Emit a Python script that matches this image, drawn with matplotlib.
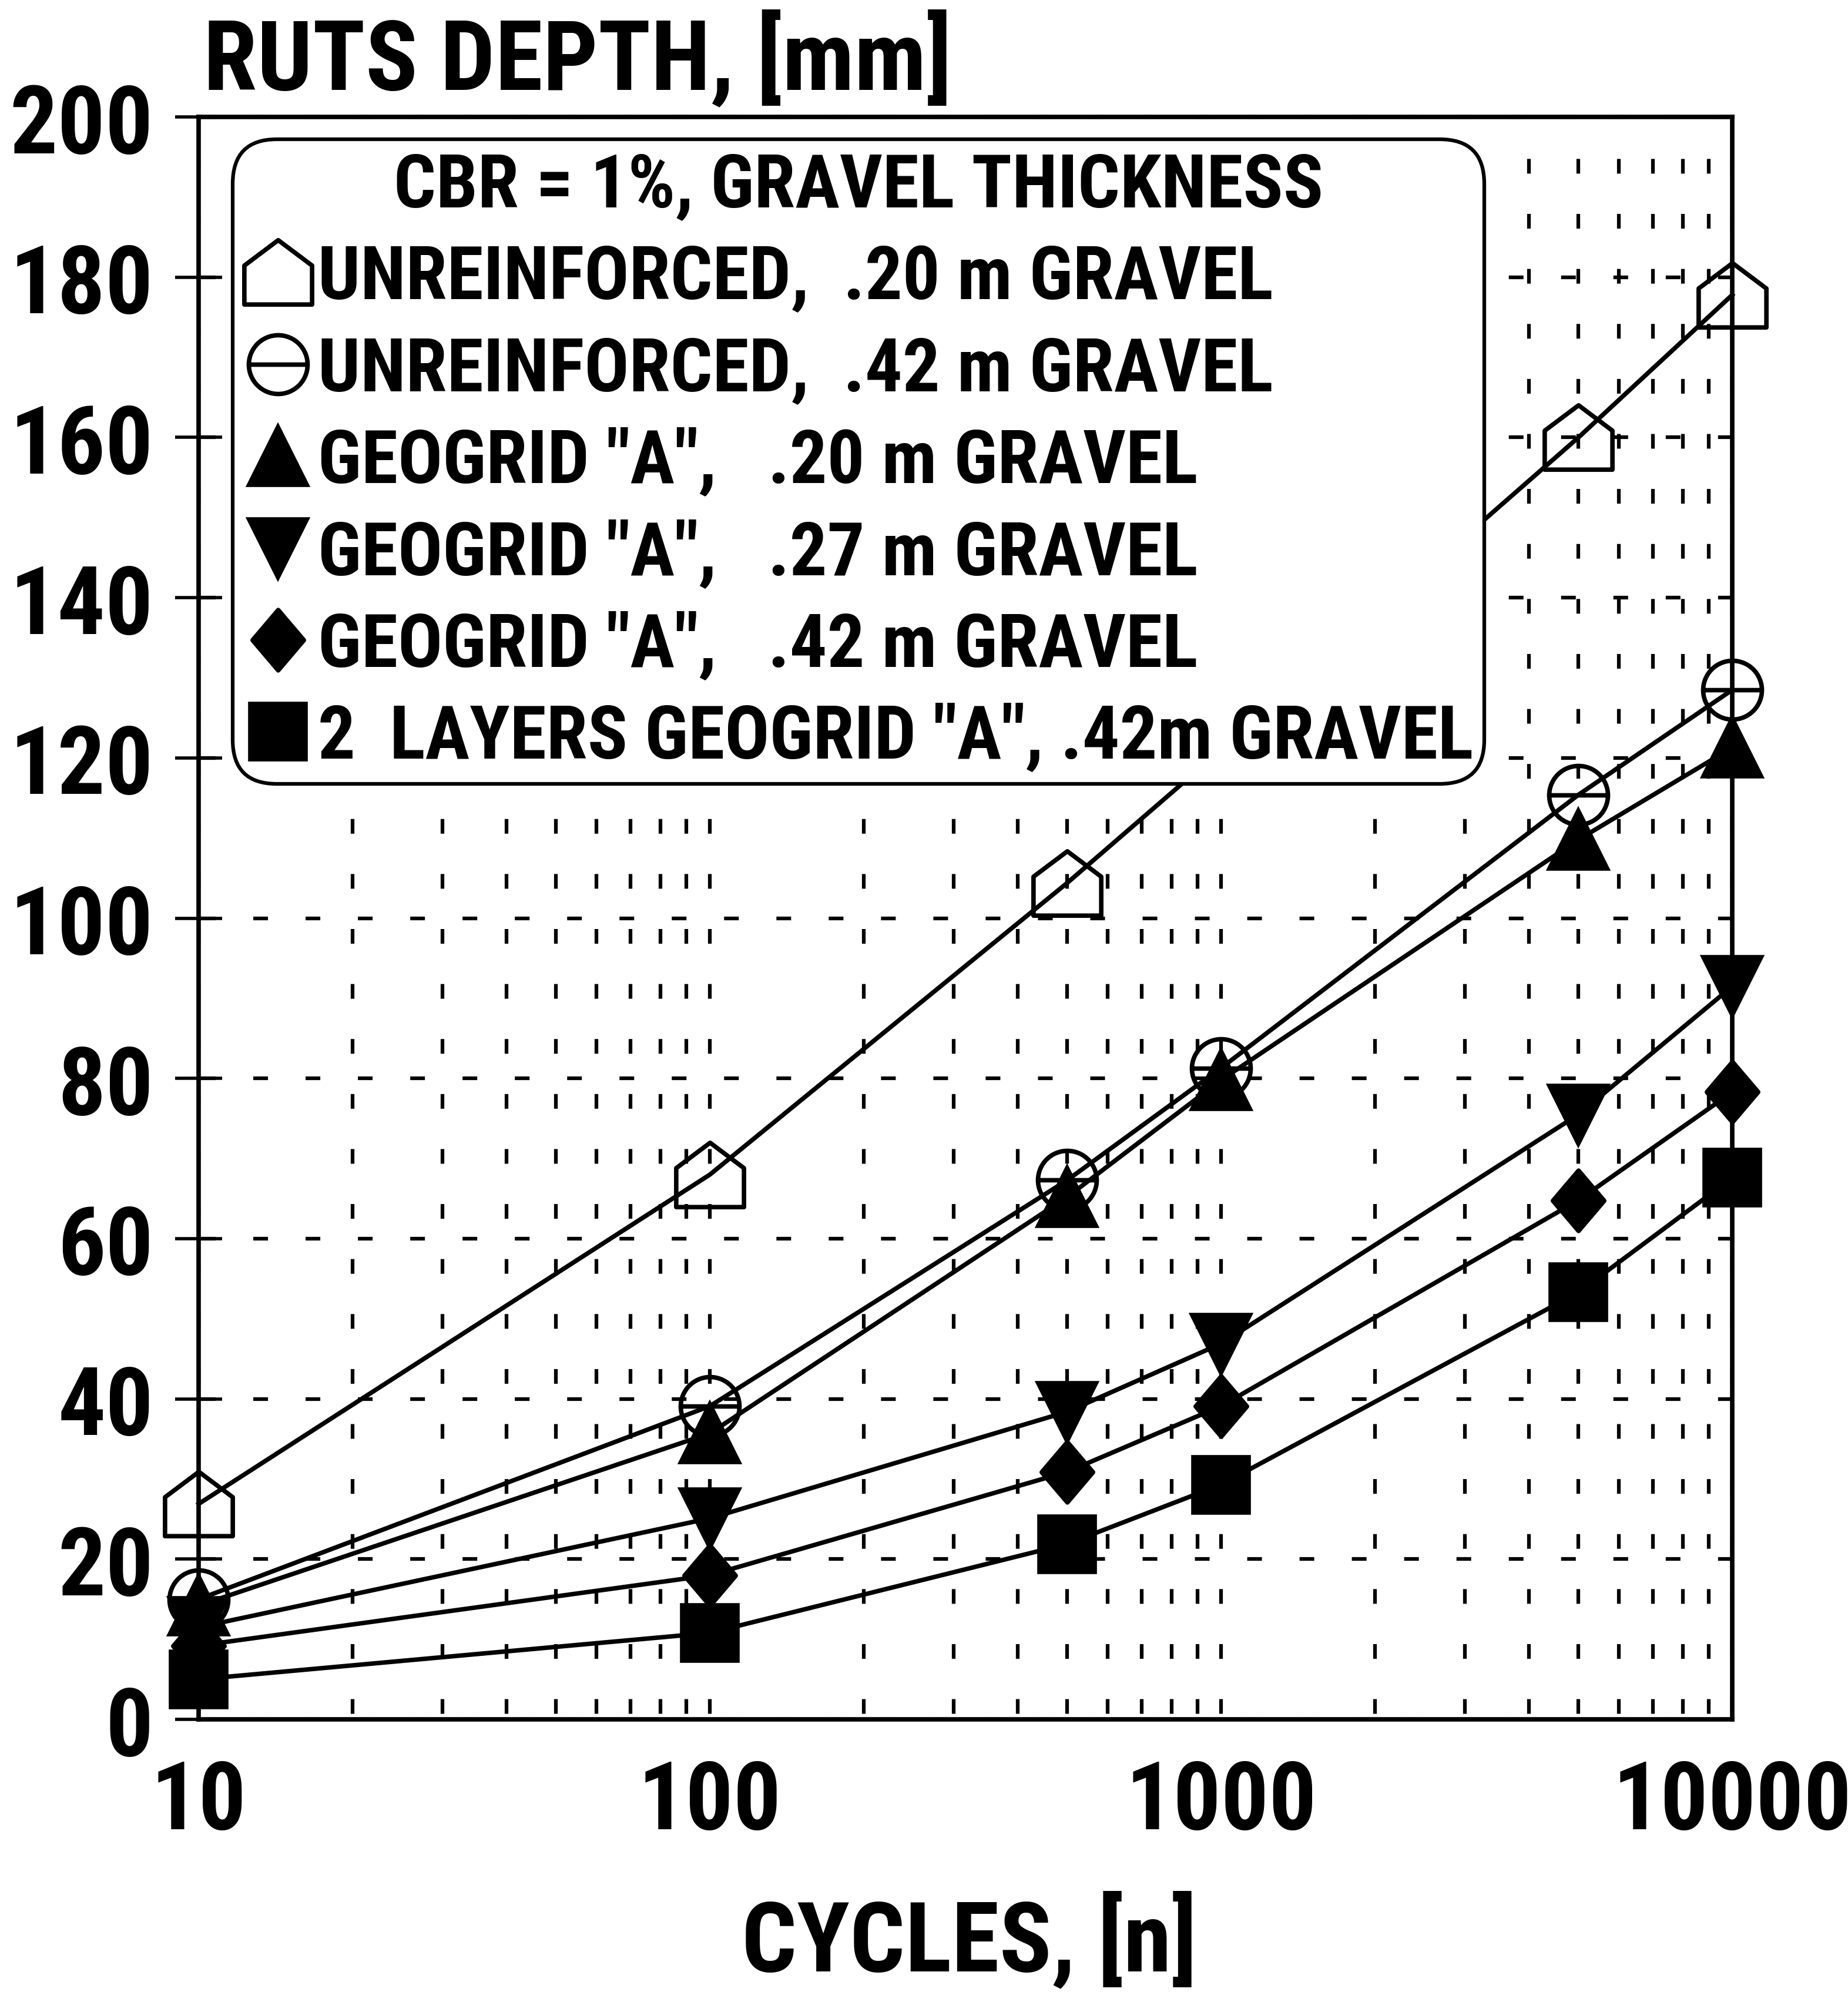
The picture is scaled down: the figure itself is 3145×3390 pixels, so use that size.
import numpy as np
import matplotlib
matplotlib.use("Agg")
import matplotlib.pyplot as plt
from matplotlib import font_manager
from matplotlib.path import Path
from matplotlib.lines import Line2D

# pick a narrow bold sans if there is one
installed = {f.name for f in font_manager.fontManager.ttflist}
narrow = [n for n in ['Liberation Sans Narrow', 'DejaVu Sans Condensed', 'Roboto Condensed',
                      'Open Sans Condensed'] if n in installed]
plt.rcParams['font.family'] = narrow + ['Liberation Sans', 'DejaVu Sans']
plt.rcParams['font.weight'] = 'bold'
plt.rcParams['lines.scale_dashes'] = False
# shrink text a bit if only a normal-width face is available
scale = 1.0 if narrow else 0.8

# data
cycles = [10, 100, 500, 1000, 5000, 10000]
unreinf_020 = [26.9, 68.0, 104.4, 121.0, 160.0, 177.8]
unreinf_042 = [15.0, 39.1, 67.3, 81.3, 115.4, 128.5]
geogrid_020 = [14.2, 35.7, 65.2, 79.8, 109.8, 121.3]
geogrid_027 = [11.5, 25.1, 38.4, 46.9, 75.5, 91.5]
geogrid_042 = [9.2, 18.0, 30.9, 39.1, 64.8, 78.3]
two_layers_042 = [5.0, 10.8, 21.9, 29.3, 53.3, 67.6]

labels = ['UNREINFORCED,  .20 m GRAVEL',
          'UNREINFORCED,  .42 m GRAVEL',
          'GEOGRID "A",   .20 m GRAVEL',
          'GEOGRID "A",   .27 m GRAVEL',
          'GEOGRID "A",   .42 m GRAVEL',
          '2  LAYERS GEOGRID "A", .42m GRAVEL']
legend_title = 'CBR = 1%, GRAVEL THICKNESS'
y_ticks = list(range(0, 201, 20))
x_ticks = [10, 100, 1000, 10000]

# marker shapes
house = Path([(-1, -0.95), (1, -0.95), (1, 0.2), (0, 0.95), (-1, 0.2), (-1, -0.95)],
             [Path.MOVETO, Path.LINETO, Path.LINETO, Path.LINETO, Path.LINETO, Path.CLOSEPOLY])
bar_circle = Path.make_compound_path(Path.unit_circle(), Path([(-1, 0), (1, 0)]))
diamond = Path([(0, 1), (0.85, 0), (0, -1), (-0.85, 0), (0, 1)],
               [Path.MOVETO, Path.LINETO, Path.LINETO, Path.LINETO, Path.CLOSEPOLY])

styles = [
    dict(marker=house, ms=83, mfc='none'),
    dict(marker=bar_circle, ms=72, mfc='none'),
    dict(marker='^', ms=70, mfc='k'),
    dict(marker='v', ms=70, mfc='k'),
    dict(marker=diamond, ms=74, mfc='k'),
    dict(marker='s', ms=68, mfc='k'),
]
series = [unreinf_020, unreinf_042, geogrid_020, geogrid_027, geogrid_042, two_layers_042]

fig = plt.figure(figsize=(31.45, 33.91), dpi=100)
ax = fig.add_axes([0.1075, 0.1368, 0.8299, 0.8042])

handles = []
for vals, st in zip(series, styles):
    ax.plot(cycles, vals, color='k', lw=5.5, mec='k', mew=5.5, zorder=3, clip_on=False, **st)
    handles.append(Line2D([], [], linestyle='none', color='k', mec='k', mew=5.5, **st))

ax.set_xscale('log')
ax.set_xlim(10, 10000)
ax.set_ylim(0, 200)
ax.set_yticks(y_ticks)
ax.set_xticks(x_ticks)
ax.set_xticklabels([str(v) for v in x_ticks])
ax.xaxis.set_minor_formatter(plt.NullFormatter())

ax.tick_params(axis='y', which='major', direction='inout', length=57, width=4,
               labelsize=116 * scale, pad=27)
ax.tick_params(axis='y', which='minor', length=0)
ax.tick_params(axis='x', which='both', length=0, labelsize=116 * scale, pad=47)

for s in ax.spines.values():
    s.set_linewidth(5.5)

# dashed grid like the original
ax.grid(True, axis='y', which='major', color='k', lw=4.5, linestyle=(61.2, (18, 46.1)))
ax.grid(True, axis='x', which='both', color='k', lw=4.5, linestyle=(60.6, (18, 49.4)))
ax.set_axisbelow(True)

leg_fs = 91 * scale
leg = ax.legend(handles, labels, title=legend_title, loc='upper left',
                bbox_to_anchor=(0.022, 0.986), borderaxespad=0, fontsize=leg_fs,
                title_fontsize=leg_fs, handlelength=0.92 / scale, handletextpad=0.08,
                labelspacing=0.28 / scale, borderpad=0.15, frameon=True, fancybox=True,
                framealpha=1, edgecolor='k')
leg.get_frame().set_linewidth(4.5)
leg.get_frame().set_boxstyle('round', pad=0, rounding_size=0.6 / scale)
leg.get_title().set_fontweight('bold')
leg.set_zorder(10)

fig.text(0.110, 0.955, 'RUTS DEPTH, [mm]', fontsize=119 * scale, fontweight='bold',
         ha='left', va='baseline')
fig.text(0.5246, 0.0254, 'CYCLES, [n]', fontsize=119 * scale, fontweight='bold',
         ha='center', va='center')

fig.savefig('out.png', dpi=100)
